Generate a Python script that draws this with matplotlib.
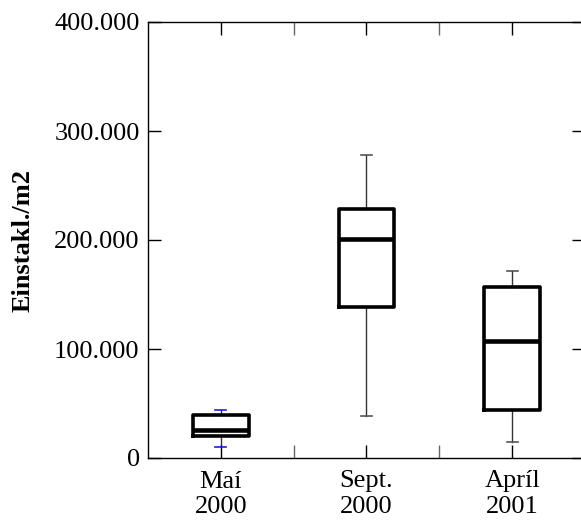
import matplotlib
matplotlib.use("Agg")
import matplotlib.pyplot as plt
from matplotlib.ticker import FuncFormatter, FixedLocator

# Gögn lesin af myndinni (einstaklingar á m2)
categories = ["Maí\n2000", "Sept.\n2000", "Apríl\n2001"]
whislo = [10500, 38500, 14800]
q1 = [20600, 138500, 44000]
med = [26000, 201000, 107600]
q3 = [39400, 228200, 157200]
whishi = [44300, 277700, 171600]
cap_colors = ["#2020e0", "#555555", "#555555"]

plt.rcParams["font.family"] = ["Liberation Serif", "DejaVu Serif"]

fig = plt.figure(figsize=(5.81, 5.21), dpi=100)
ax = fig.add_axes([148 / 581, 63 / 521, 437 / 581, 436 / 521])

stats = []
for i in range(len(categories)):
    stats.append({"whislo": whislo[i], "q1": q1[i], "med": med[i],
                  "q3": q3[i], "whishi": whishi[i], "fliers": []})

bp = ax.bxp(stats, positions=[1, 2, 3], widths=0.38, capwidths=0.075,
            showfliers=False, patch_artist=False,
            boxprops=dict(color="black", linewidth=2.6, solid_joinstyle="round"),
            medianprops=dict(color="black", linewidth=3.3),
            whiskerprops=dict(color="#333333", linewidth=1.0),
            capprops=dict(linewidth=1.2))
for j, cap in enumerate(bp["caps"]):
    cap.set_color(cap_colors[j // 2])
for w in bp["whiskers"]:
    w.set_zorder(1)

ax.set_xlim(0.5, 3.5)
ax.set_ylim(0, 400000)
ax.set_yticks([0, 100000, 200000, 300000, 400000])
ax.yaxis.set_major_formatter(FuncFormatter(lambda v, p: f"{int(v):,}".replace(",", ".")))
ax.set_xticks([1, 2, 3])
ax.set_xticklabels(categories)
ax.xaxis.set_minor_locator(FixedLocator([1.5, 2.5]))

ax.tick_params(axis="both", which="both", direction="in", length=9.5, width=1.0,
               top=True, right=True, labelsize=19)
ax.tick_params(axis="x", which="minor", color="#666666")
ax.tick_params(axis="x", which="major", pad=9)
ax.tick_params(axis="y", which="major", pad=6)

ax.set_ylabel("Einstakl./m2", fontsize=19, fontweight="bold", labelpad=14)

for s in ax.spines.values():
    s.set_linewidth(1.0)

fig.savefig("out.png", dpi=100)
